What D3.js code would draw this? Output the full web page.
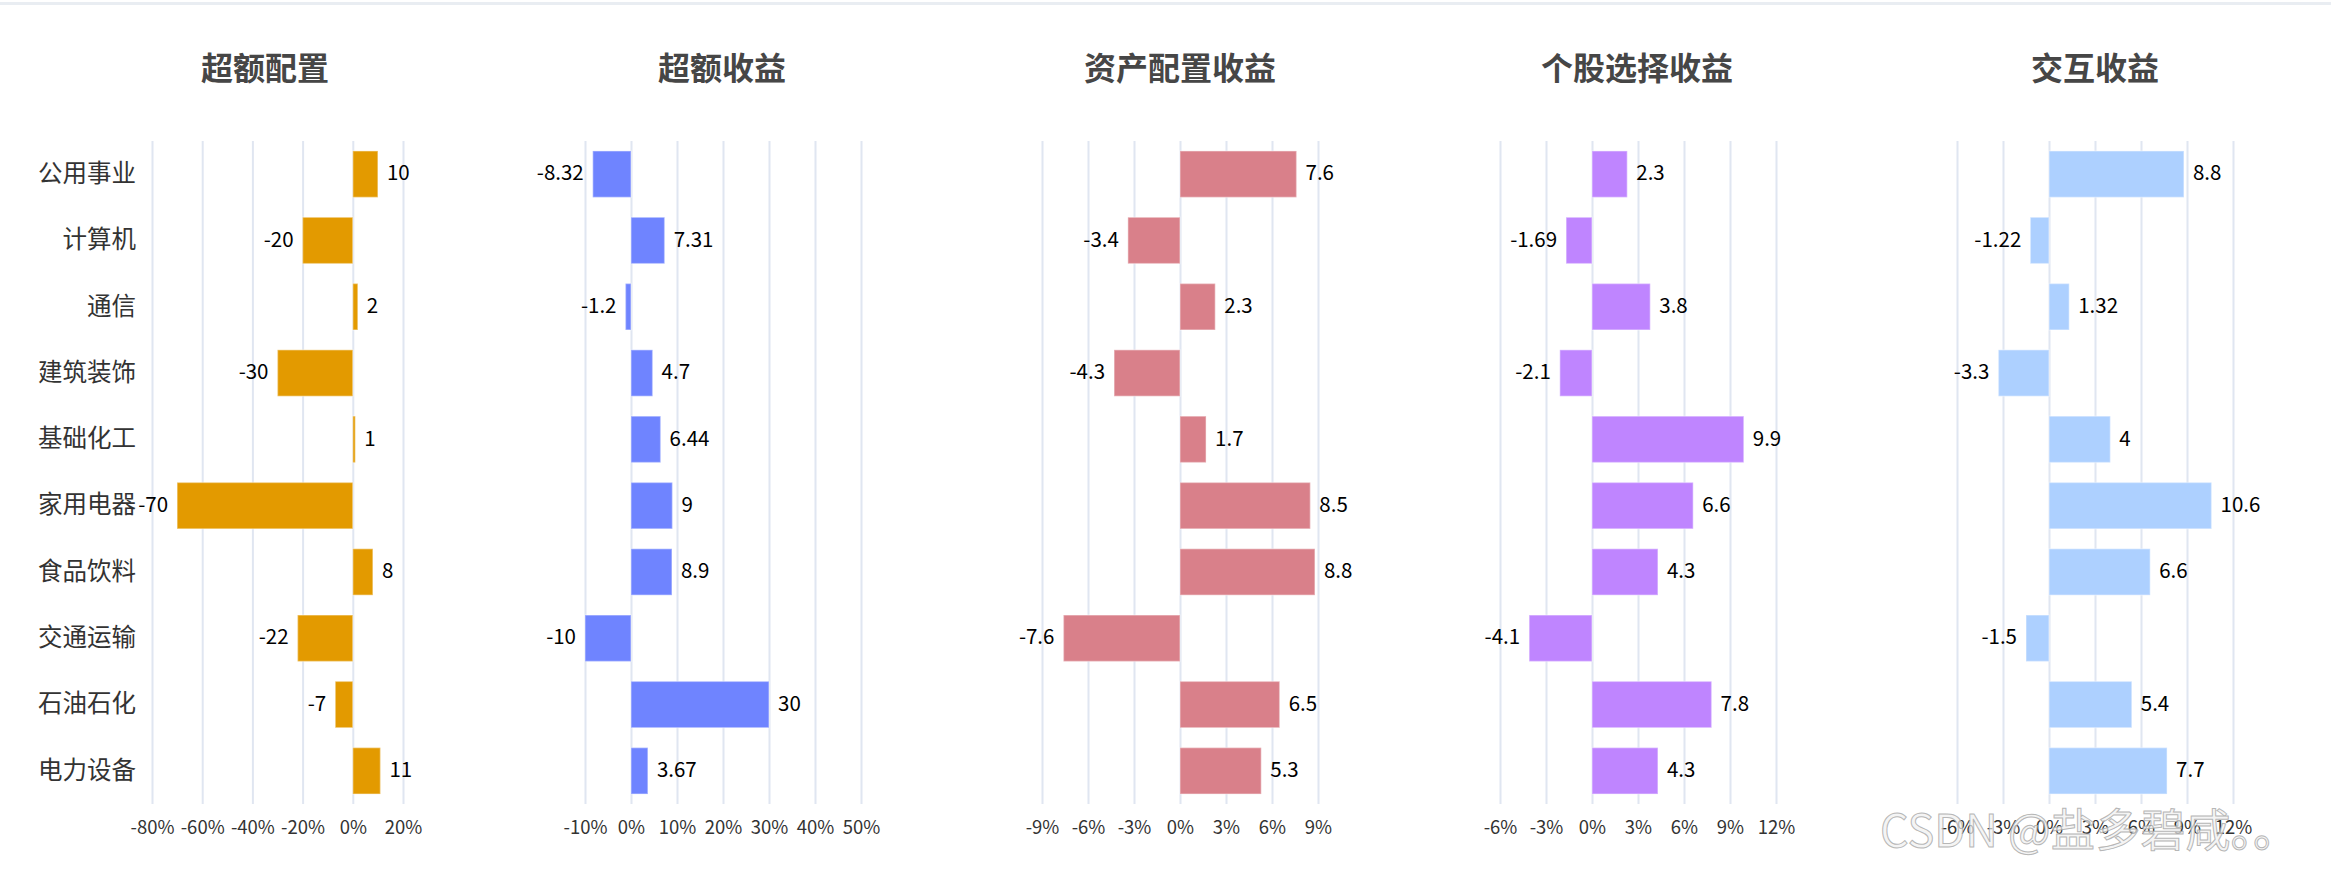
<!DOCTYPE html>
<html><head><meta charset="utf-8">
<script src="https://cdn.jsdelivr.net/npm/d3@7/dist/d3.min.js"></script>
<style>
html,body{margin:0;padding:0;background:#fff;}
svg{display:block;}
text{font-family:"Noto Sans CJK SC","Noto Sans",sans-serif;}
</style></head>
<body>
<svg id="chart" width="2331" height="871"></svg>
<script>
// ---- data ----
const categories = ["公用事业","计算机","通信","建筑装饰","基础化工","家用电器","食品饮料","交通运输","石油石化","电力设备"];
const titles = ["超额配置","超额收益","资产配置收益","个股选择收益","交互收益"];
const excessAllocation = [10,-20,2,-30,1,-70,8,-22,-7,11];
const excessReturn = [-8.32,7.31,-1.2,4.7,6.44,9,8.9,-10,30,3.67];
const allocationReturn = [7.6,-3.4,2.3,-4.3,1.7,8.5,8.8,-7.6,6.5,5.3];
const selectionReturn = [2.3,-1.69,3.8,-2.1,9.9,6.6,4.3,-4.1,7.8,4.3];
const interactionReturn = [8.8,-1.22,1.32,-3.3,4,10.6,6.6,-1.5,5.4,7.7];
const ticks1 = [-80,-60,-40,-20,0,20];
const ticks2 = [-10,0,10,20,30,40,50];
const ticks3 = [-9,-6,-3,0,3,6,9];
const ticks4 = [-6,-3,0,3,6,9,12];
const ticks5 = [-6,-3,0,3,6,9,12];

const seriesList = [excessAllocation, excessReturn, allocationReturn, selectionReturn, interactionReturn];
const tickList = [ticks1, ticks2, ticks3, ticks4, ticks5];
const colors = ["#e39a00","#6f84ff","#d9808a","#bf85ff","#add0ff"];
const xRanges = [[152,403],[585,861],[1042,1318],[1500,1776],[1957,2233]];
const titleX = [265,722,1180,1637,2095];

const svg = d3.select("#chart");
const plotTop = 141, plotBottom = 804;

// top border line
svg.append("rect").attr("x",0).attr("y",2).attr("width",2331).attr("height",3).attr("fill","#e9edf2");

const y = d3.scaleBand().domain(categories).range([plotTop,plotBottom]).paddingInner(0.3).paddingOuter(0.15);

seriesList.forEach((vals,i)=>{
  const ticks = tickList[i];
  const x = d3.scaleLinear().domain(d3.extent(ticks)).range(xRanges[i]);
  const g = svg.append("g");

  // gridlines
  const grid = g.append("g").attr("transform",`translate(0,${plotBottom})`)
    .call(d3.axisBottom(x).tickValues(ticks).tickSize(-(plotBottom-plotTop)).tickFormat(""));
  grid.select(".domain").remove();
  grid.selectAll("line").attr("stroke","#e0e6f1").attr("stroke-width",2);

  // x tick labels
  const ax = g.append("g").attr("transform",`translate(0,${plotBottom})`)
    .call(d3.axisBottom(x).tickValues(ticks).tickSize(0).tickPadding(0).tickFormat(d=>d+"%"));
  ax.select(".domain").remove();
  ax.selectAll("text").attr("y",24).attr("dy","0.32em")
    .attr("font-size",18.5).attr("fill","#333")
    .style("font-family",'"Noto Sans CJK SC","Noto Sans",sans-serif');

  // bars
  g.selectAll("rect.bar").data(vals).join("rect").attr("class","bar")
    .attr("x",d=>x(Math.min(0,d)))
    .attr("width",d=>Math.abs(x(d)-x(0)))
    .attr("y",(d,j)=>y(categories[j]))
    .attr("height",y.bandwidth())
    .attr("fill",colors[i])
    .attr("stroke","rgba(255,255,255,0.35)").attr("stroke-width",1.5);

  // value labels
  g.selectAll("text.val").data(vals).join("text").attr("class","val")
    .attr("x",d=> d>=0 ? x(d)+9 : x(d)-9)
    .attr("y",(d,j)=>y(categories[j])+y.bandwidth()/2-1)
    .attr("dy","0.35em")
    .attr("text-anchor",d=> d>=0 ? "start":"end")
    .attr("font-size",20.5).attr("fill","#000")
    .text(d=>String(d));

  // title
  svg.append("text").attr("x",titleX[i]).attr("y",68).attr("dy","0.36em")
    .attr("text-anchor","middle").attr("font-size",32).attr("font-weight","bold")
    .attr("fill","#464646").text(titles[i]);

  // category axis on first panel
  if(i===0){
    const ay = svg.append("g").attr("transform",`translate(${xRanges[0][0]},0)`)
      .call(d3.axisLeft(y).tickSize(0).tickPadding(16));
    ay.select(".domain").remove();
    ay.selectAll("text").attr("font-size",24.5).attr("fill","#333")
      .style("font-family",'"Noto Sans CJK SC","Noto Sans",sans-serif');
  }
});

// watermark
svg.append("text").attr("x",1880).attr("y",847)
  .attr("font-size",45).attr("fill","rgba(240,240,240,0.7)")
  .attr("stroke","rgba(165,165,165,0.8)").attr("stroke-width",1)
  .text("CSDN @盐多碧咸。。");
</script>
</body></html>
